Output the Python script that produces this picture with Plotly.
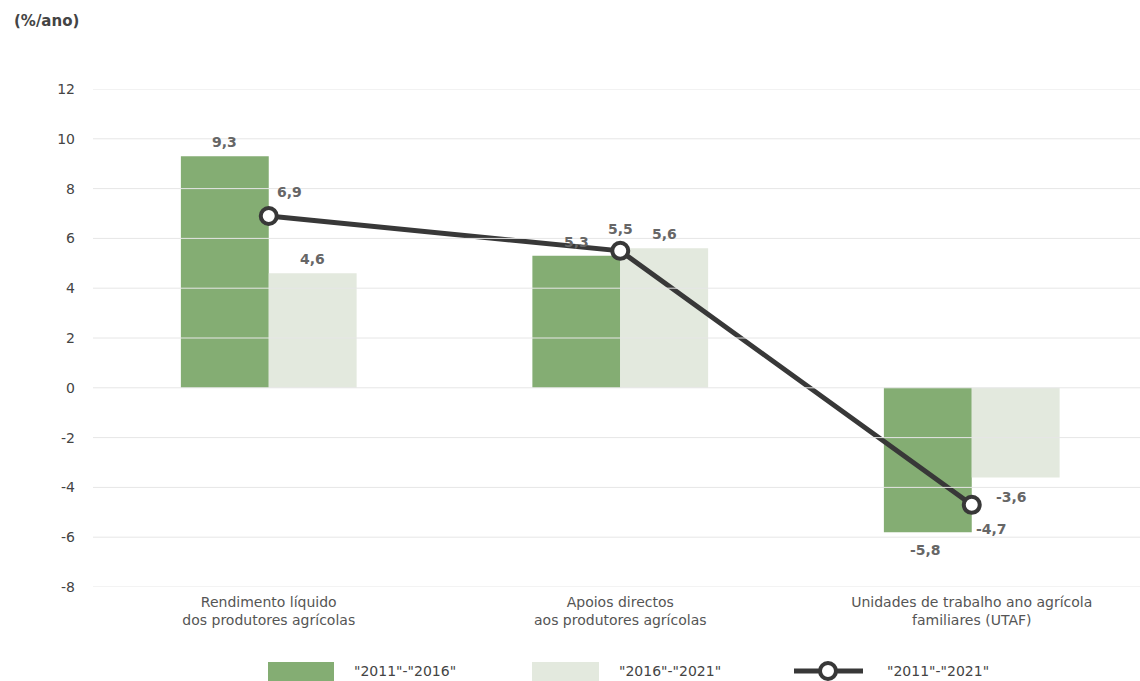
import plotly.graph_objects as go

# ---------------- data ----------------
categories = ["Rendimento líquido<br>dos produtores agrícolas",
              "Apoios directos<br>aos produtores agrícolas",
              "Unidades de trabalho ano agrícola<br>familiares (UTAF)"]
series_names = ['"2011"-"2016"', '"2016"-"2021"', '"2011"-"2021"']
v_2011_2016 = [9.3, 5.3, -5.8]
v_2016_2021 = [4.6, 5.6, -3.6]
v_2011_2021 = [6.9, 5.5, -4.7]
y_ticks = [-8, -6, -4, -2, 0, 2, 4, 6, 8, 10, 12]
y_tick_labels = ["-8", "-6", "-4", "-2", "0", "2", "4", "6", "8", "10", "12"]
unit_title = "(%/ano)"

# ---------------- style ----------------
W, H = 1140, 681
ML, MR, MT, MB = 93, 0, 89, 94
PW, PH = W - ML - MR, H - MT - MB
CAT_PX = 351.5
GREEN = "#84ad73"
LIGHT = "#e3e9de"
DARK = "#383838"
FONT = "DejaVu Sans"
TXT = "#444444"
LBL = "#666666"

xpos = list(range(len(categories)))
x_max = -0.5 + PW / CAT_PX


def fmt(v):
    return f"{v:.1f}".replace(".", ",")


def px_x(p):
    return (p - ML) / PW


def px_y(p):
    return (H - MB - p) / PH


fig = go.Figure()
fig.add_trace(go.Bar(x=xpos, y=v_2011_2016, name=series_names[0],
                     marker=dict(color=GREEN, line=dict(width=0)), showlegend=False))
fig.add_trace(go.Bar(x=xpos, y=v_2016_2021, name=series_names[1],
                     marker=dict(color=LIGHT, line=dict(width=0)), showlegend=False))
fig.add_trace(go.Scatter(x=xpos, y=v_2011_2021, name=series_names[2], mode="lines+markers",
                         line=dict(color=DARK, width=5),
                         marker=dict(size=16, color="white", line=dict(color=DARK, width=4)),
                         showlegend=False))

shapes = []
# gridlines drawn above bars (as in the reference)
for t in y_ticks:
    shapes.append(dict(type="line", xref="paper", yref="y", x0=0, x1=1, y0=t, y1=t,
                       line=dict(color="#e6e6e6", width=1), layer="above"))

annotations = []
lab_font = dict(family=FONT, size=14, color=LBL, weight="bold")
green_off = [(0, 4), (0, 4), (-2, -8)]
light_off = [(0, 4), (0, 4), (-4, -10)]
line_off = [(21, 14), (0, 12), (20, -14)]
for i, v in enumerate(v_2011_2016):
    dx, dy = green_off[i]
    annotations.append(dict(x=xpos[i] - 0.125, y=v, xref="x", yref="y", text=fmt(v),
                            showarrow=False, font=lab_font, xshift=dx, yshift=dy,
                            yanchor="bottom" if v >= 0 else "top"))
for i, v in enumerate(v_2016_2021):
    dx, dy = light_off[i]
    annotations.append(dict(x=xpos[i] + 0.125, y=v, xref="x", yref="y", text=fmt(v),
                            showarrow=False, font=lab_font, xshift=dx, yshift=dy,
                            yanchor="bottom" if v >= 0 else "top"))
for i, v in enumerate(v_2011_2021):
    dx, dy = line_off[i]
    annotations.append(dict(x=xpos[i], y=v, xref="x", yref="y", text=fmt(v),
                            showarrow=False, font=lab_font, xshift=dx, yshift=dy,
                            yanchor="bottom" if dy > 0 else "top"))

# unit title
annotations.append(dict(x=px_x(12), y=px_y(21), xref="paper", yref="paper", text=unit_title,
                        showarrow=False, xanchor="left", yanchor="middle",
                        font=dict(family=FONT, size=15, color=TXT, weight="bold")))

# custom legend
leg_y = 671
shapes.append(dict(type="rect", xref="paper", yref="paper", x0=px_x(268), x1=px_x(334),
                   y0=px_y(662), y1=px_y(681), fillcolor=GREEN, line=dict(width=0)))
shapes.append(dict(type="rect", xref="paper", yref="paper", x0=px_x(532), x1=px_x(599),
                   y0=px_y(662), y1=px_y(681), fillcolor=LIGHT, line=dict(width=0)))
shapes.append(dict(type="line", xref="paper", yref="paper", x0=px_x(794), x1=px_x(863),
                   y0=px_y(leg_y), y1=px_y(leg_y), line=dict(color=DARK, width=5)))
shapes.append(dict(type="circle", xref="paper", yref="paper", x0=px_x(820), x1=px_x(836),
                   y0=px_y(663), y1=px_y(679), fillcolor="white", line=dict(color=DARK, width=4)))
for name, xl in zip(series_names, [352, 617, 885]):
    annotations.append(dict(x=px_x(xl), y=px_y(leg_y), xref="paper", yref="paper", text=name,
                            showarrow=False, xanchor="left", yanchor="middle",
                            font=dict(family=FONT, size=14, color=TXT)))

fig.update_layout(
    width=W, height=H,
    margin=dict(l=ML, r=MR, t=MT, b=MB, pad=0),
    paper_bgcolor="white", plot_bgcolor="white",
    barmode="group", bargap=0.5, bargroupgap=0,
    font=dict(family=FONT, size=14, color=TXT),
    shapes=shapes, annotations=annotations,
    xaxis=dict(range=[-0.5, x_max], tickvals=xpos, ticktext=categories,
               showgrid=False, zeroline=False, showline=False, ticks="",
               ticklabelstandoff=5,
               tickfont=dict(family=FONT, size=14, color="#555555"),
               fixedrange=True),
    yaxis=dict(range=[-8, 12], tickvals=y_ticks, ticktext=y_tick_labels,
               showgrid=False, zeroline=False, showline=False, ticks="",
               ticklabelstandoff=17,
               tickfont=dict(family=FONT, size=14, color=TXT), fixedrange=True),
)

fig.write_html("out.html")
